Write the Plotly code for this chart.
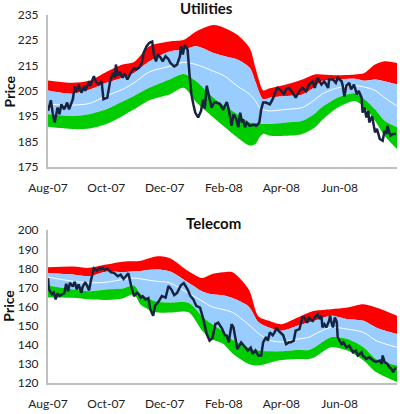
import plotly.graph_objects as go

# ---------------- Utilities ----------------
u_band_dates = ["2007-08-01","2007-08-27","2007-09-13","2007-10-01","2007-10-18","2007-10-30",
                "2007-11-15","2007-12-06","2007-12-21","2008-01-03","2008-01-21","2008-02-02",
                "2008-02-15","2008-02-28","2008-03-05","2008-03-09","2008-03-13","2008-03-20",
                "2008-04-06","2008-04-23","2008-05-06","2008-05-13","2008-05-30","2008-06-17",
                "2008-06-27","2008-07-08","2008-07-18","2008-07-31"]
u_upper2 = [209.1,208.2,209.0,212.5,215.4,216.4,222.6,224.5,225.2,228.5,231.0,229.8,227.2,221.9,
            214.0,208.8,205.2,206.0,207.5,209.5,211.5,211.5,211.2,211.5,212.1,215.4,216.7,216.0]
u_upper1 = [205.2,203.9,205.4,208.2,210.2,212.1,216.7,220.6,221.3,222.6,220.0,218.7,217.4,214.1,
            208.5,204.3,201.7,202.3,203.0,203.6,206.5,208.8,209.5,209.8,209.0,209.5,208.8,207.5]
u_mid    = [199.7,199.4,200.0,203.0,205.6,208.2,212.5,214.7,216.3,215.4,212.8,210.8,206.9,203.6,
            201.0,198.4,197.5,197.1,197.7,198.4,201.5,203.6,206.2,207.0,206.5,205.2,202.3,199.0]
u_lower1 = [195.8,195.1,195.8,197.7,200.8,203.0,206.2,209.5,211.7,208.8,202.3,199.0,195.8,192.5,
            192.3,191.9,191.9,191.9,192.5,193.2,196.0,198.4,202.3,204.0,201.7,197.7,193.2,190.6]
u_lower2 = [190.8,189.9,190.1,191.9,195.1,197.7,201.3,203.6,206.2,200.5,194.5,190.6,186.6,183.4,
            184.0,186.6,188.0,187.3,187.3,188.0,190.5,193.2,198.4,201.0,198.4,193.2,187.3,182.0]

u_dates = [
 "2007-08-01","2007-08-04","2007-08-06","2007-08-08","2007-08-11","2007-08-13","2007-08-15","2007-08-18","2007-08-21","2007-08-23","2007-08-25","2007-08-27","2007-08-29","2007-08-30",
 "2007-09-01","2007-09-02","2007-09-05","2007-09-08","2007-09-09","2007-09-13","2007-09-14","2007-09-18","2007-09-20","2007-09-23","2007-09-26","2007-09-28",
 "2007-10-02","2007-10-05","2007-10-08","2007-10-10","2007-10-11","2007-10-13","2007-10-15","2007-10-18","2007-10-20","2007-10-23","2007-10-26","2007-10-30",
 "2007-11-01","2007-11-04","2007-11-07","2007-11-09","2007-11-12","2007-11-15","2007-11-18","2007-11-20","2007-11-22","2007-11-24","2007-11-27","2007-11-29",
 "2007-12-02","2007-12-05","2007-12-07","2007-12-11","2007-12-14","2007-12-17","2007-12-18","2007-12-20","2007-12-22","2007-12-25","2007-12-27","2007-12-29","2007-12-31",
 "2008-01-02","2008-01-05","2008-01-08","2008-01-10","2008-01-12","2008-01-14","2008-01-17","2008-01-19","2008-01-22","2008-01-24","2008-01-28","2008-01-31",
 "2008-02-04","2008-02-06","2008-02-09","2008-02-11","2008-02-14","2008-02-16","2008-02-18","2008-02-20","2008-02-21","2008-02-23","2008-02-25","2008-02-28",
 "2008-03-03","2008-03-06","2008-03-09","2008-03-11","2008-03-13","2008-03-16","2008-03-20","2008-03-23","2008-03-27","2008-03-28",
 "2008-04-01","2008-04-04","2008-04-06","2008-04-09","2008-04-13","2008-04-16","2008-04-20","2008-04-23","2008-04-27","2008-04-30",
 "2008-05-04","2008-05-06","2008-05-09","2008-05-13","2008-05-16","2008-05-20","2008-05-21","2008-05-25","2008-05-28","2008-05-30",
 "2008-06-03","2008-06-04","2008-06-06","2008-06-08","2008-06-11","2008-06-13","2008-06-16","2008-06-19","2008-06-21","2008-06-24","2008-06-25","2008-06-27","2008-06-29",
 "2008-07-01","2008-07-02","2008-07-05","2008-07-08","2008-07-10","2008-07-13","2008-07-16","2008-07-18","2008-07-20","2008-07-21","2008-07-24","2008-07-27","2008-07-30"]
u_price = [
 197.1,201.3,196.0,192.5,198.4,195.8,199.7,197.7,200.4,197.7,199.7,201.7,206.9,204.5,
 205.6,207.5,204.3,206.9,205.0,208.8,206.9,210.8,208.8,207.5,208.8,201.7,
 202.3,208.8,212.1,210.2,215.4,211.0,212.5,210.2,212.0,209.5,211.7,214.1,
 213.4,214.1,216.0,220.0,222.6,224.0,224.5,218.7,216.7,219.4,218.0,216.7,
 218.7,217.5,216.0,214.7,215.4,218.7,222.6,219.4,223.2,221.3,211.5,203.6,199.7,
 196.4,194.5,197.0,201.5,198.0,207.0,201.7,198.4,200.5,200.4,199.8,197.5,
 200.6,197.7,191.2,195.7,193.8,190.6,196.4,192.5,193.8,190.6,192.5,191.2,
 191.6,191.2,192.5,197.7,200.4,200.4,199.7,201.7,205.6,206.2,
 205.0,203.6,205.8,206.2,204.3,202.3,204.9,206.2,204.9,207.5,
 208.8,206.2,210.2,207.5,208.8,206.2,209.5,209.5,208.2,210.2,
 208.8,207.5,202.8,207.0,208.2,205.6,207.5,203.6,205.0,202.3,196.4,198.5,194.5,
 197.1,192.5,195.0,188.6,190.0,186.0,185.3,189.2,188.0,191.2,187.3,188.0,188.0]

# ---------------- Telecom ----------------
t_band_dates = ["2007-08-01","2007-08-27","2007-09-13","2007-10-01","2007-10-18","2007-10-30",
                "2007-11-06","2007-11-22","2007-12-06","2007-12-26","2008-01-09","2008-01-19",
                "2008-01-31","2008-02-10","2008-02-27","2008-03-08","2008-03-19","2008-04-01",
                "2008-04-18","2008-04-30","2008-05-06","2008-05-23","2008-06-09","2008-06-26",
                "2008-07-09","2008-07-31"]
t_upper2 = [180.6,181.0,180.3,182.0,183.5,183.7,184.0,186.3,185.5,178.5,175.0,177.0,178.0,178.0,
            169.0,155.0,152.6,150.8,154.3,156.9,157.8,158.6,159.5,161.2,159.5,155.2]
t_upper1 = [177.6,176.8,176.0,178.3,178.0,178.5,178.7,179.4,178.5,172.5,168.0,166.5,166.0,164.5,
            160.0,152.0,149.1,147.4,150.0,151.7,152.6,155.2,153.4,152.6,149.1,145.6]
t_mid    = [175.4,173.3,172.5,172.8,174.2,175.0,174.5,173.3,172.5,167.0,163.0,160.0,158.5,157.0,
            150.5,146.0,142.5,141.5,143.0,144.0,145.6,149.1,148.2,146.5,142.2,138.7]
t_lower1 = [171.0,169.0,168.1,169.0,169.5,171.0,166.5,162.7,162.1,162.0,155.0,151.0,147.0,142.5,
            138.5,137.0,136.6,136.6,137.3,137.3,138.7,143.9,143.0,138.7,132.6,129.2]
t_lower2 = [164.8,164.7,163.8,163.5,164.3,166.4,161.0,157.0,156.9,157.0,147.5,143.0,140.5,135.5,
            130.0,129.2,130.5,132.0,132.6,132.6,133.5,138.7,137.0,131.8,125.7,120.5]

t_dates = [
 "2007-08-01","2007-08-02","2007-08-05","2007-08-07","2007-08-09","2007-08-11","2007-08-13","2007-08-16","2007-08-18","2007-08-20","2007-08-22","2007-08-24","2007-08-27","2007-08-29","2007-08-31",
 "2007-09-02","2007-09-05","2007-09-06","2007-09-09","2007-09-11","2007-09-13","2007-09-15","2007-09-17","2007-09-18","2007-09-21","2007-09-24","2007-09-25","2007-09-27","2007-09-29",
 "2007-10-02","2007-10-06","2007-10-09","2007-10-13","2007-10-16","2007-10-19","2007-10-21","2007-10-24","2007-10-27","2007-10-30",
 "2007-11-02","2007-11-04","2007-11-06","2007-11-08","2007-11-11","2007-11-14","2007-11-16","2007-11-19","2007-11-21","2007-11-23","2007-11-25","2007-11-28",
 "2007-12-02","2007-12-05","2007-12-08","2007-12-11","2007-12-14","2007-12-18","2007-12-21","2007-12-25","2007-12-28","2007-12-31",
 "2008-01-03","2008-01-07","2008-01-10","2008-01-14","2008-01-17","2008-01-20","2008-01-23","2008-01-26","2008-01-30",
 "2008-02-02","2008-02-04","2008-02-06","2008-02-09","2008-02-11","2008-02-13","2008-02-15","2008-02-17","2008-02-19","2008-02-22","2008-02-24","2008-02-26","2008-02-29",
 "2008-03-02","2008-03-05","2008-03-08","2008-03-11","2008-03-13","2008-03-16","2008-03-18","2008-03-20","2008-03-23","2008-03-25","2008-03-27","2008-03-29",
 "2008-04-01","2008-04-03","2008-04-06","2008-04-09","2008-04-11","2008-04-14","2008-04-16","2008-04-20","2008-04-23","2008-04-25","2008-04-28","2008-04-30",
 "2008-05-04","2008-05-06","2008-05-09","2008-05-11","2008-05-13","2008-05-14","2008-05-16","2008-05-18","2008-05-21","2008-05-22","2008-05-23","2008-05-25","2008-05-27","2008-05-29","2008-05-30",
 "2008-06-03","2008-06-05","2008-06-08","2008-06-11","2008-06-15","2008-06-18","2008-06-20","2008-06-24","2008-06-25","2008-06-29",
 "2008-07-02","2008-07-06","2008-07-09","2008-07-13","2008-07-15","2008-07-16","2008-07-18","2008-07-21","2008-07-23","2008-07-25","2008-07-27","2008-07-29","2008-07-30"]
t_price = [
 175.0,169.0,166.5,167.5,163.8,167.0,165.6,166.4,167.0,172.0,168.0,172.5,170.5,173.0,169.0,
 171.6,167.2,170.0,172.8,170.8,168.5,174.0,178.5,180.0,178.9,180.3,179.6,180.3,179.4,
 179.8,178.0,177.7,175.9,176.7,174.5,175.9,177.5,170.8,165.5,
 167.3,166.4,164.7,165.5,163.8,164.5,158.6,155.2,160.4,161.5,162.9,165.5,
 164.7,170.8,169.0,166.0,167.2,171.2,172.3,169.0,165.5,163.8,
 160.4,159.5,154.3,145.6,142.2,143.5,150.8,151.6,148.5,
 145.0,144.8,141.3,150.8,149.1,144.0,137.8,139.5,141.3,139.5,138.2,137.0,138.5,
 135.2,137.0,134.4,134.4,141.3,144.0,142.2,146.5,145.0,146.5,149.1,147.4,
 145.8,145.0,140.4,141.3,141.3,142.2,147.4,148.2,154.3,154.3,151.6,154.0,
 152.5,154.3,156.0,153.5,155.2,149.1,150.8,149.1,152.6,155.2,152.6,149.1,154.3,152.0,143.9,
 140.4,141.3,138.7,139.5,136.1,137.0,134.4,136.1,134.4,132.6,
 133.5,131.8,131.0,131.8,130.0,134.4,131.0,130.0,128.3,127.5,125.7,127.5,128.3]

tick_vals = ["2007-08-01","2007-10-01","2007-12-01","2008-02-01","2008-04-01","2008-06-01"]
tick_text = ["Aug-07","Oct-07","Dec-07","Feb-08","Apr-08","Jun-08"]

RED = "#FF0000"
BLUE = "#99CCFF"
GREEN = "#00CC00"
NAVY = "#17243F"

fig = go.Figure()

def add_panel(xa, ya, bd, up2, up1, mid, lo1, lo2, pd_, pr):
    common = dict(xaxis=xa, yaxis=ya, mode="lines", showlegend=False, hoverinfo="skip")
    sm = 0.8
    fig.add_trace(go.Scatter(x=bd, y=up2, line=dict(width=0, shape="spline", smoothing=sm), **common))
    fig.add_trace(go.Scatter(x=bd, y=up1, fill="tonexty", fillcolor=RED,
                             line=dict(width=0, shape="spline", smoothing=sm), **common))
    fig.add_trace(go.Scatter(x=bd, y=lo1, fill="tonexty", fillcolor=BLUE,
                             line=dict(width=0, shape="spline", smoothing=sm), **common))
    fig.add_trace(go.Scatter(x=bd, y=lo2, fill="tonexty", fillcolor=GREEN,
                             line=dict(width=0, shape="spline", smoothing=sm), **common))
    fig.add_trace(go.Scatter(x=bd, y=mid, line=dict(width=1, color="white", shape="spline", smoothing=sm), **common))
    fig.add_trace(go.Scatter(x=pd_, y=pr, line=dict(width=2.5, color=NAVY), **common))

add_panel("x", "y", u_band_dates, u_upper2, u_upper1, u_mid, u_lower1, u_lower2, u_dates, u_price)
add_panel("x2", "y2", t_band_dates, t_upper2, t_upper1, t_mid, t_lower1, t_lower2, t_dates, t_price)

FONT = "Lato"
xcommon = dict(type="date", range=["2007-08-01", "2008-07-31"], tickmode="array",
               tickvals=tick_vals, ticktext=tick_text, showgrid=False, zeroline=False,
               showline=True, linecolor="#BFBFBF", linewidth=2, ticks="outside", ticklen=9,
               tickcolor="rgba(0,0,0,0)", tickfont=dict(family=FONT, size=12, color="#222"))
ycommon = dict(showgrid=False, zeroline=False, showline=True, linecolor="#BFBFBF", linewidth=2,
               ticks="outside", ticklen=5, tickcolor="rgba(0,0,0,0)", dtick=10,
               tickfont=dict(family=FONT, size=12, color="#222"))

L, R, T, B = 48, 3, 15, 28
H = 414
ph = H - T - B

def ydom(top_px, bot_px):
    return [(H - B - bot_px) / ph, (H - B - top_px) / ph]

fig.update_layout(
    width=400, height=414, margin=dict(l=L, r=R, t=T, b=B),
    paper_bgcolor="white", plot_bgcolor="white",
    xaxis=dict(domain=[0, 1], anchor="y", **xcommon),
    yaxis=dict(domain=ydom(15, 168), anchor="x", range=[175, 235], tick0=175, **ycommon),
    xaxis2=dict(domain=[0, 1], anchor="y2", **xcommon),
    yaxis2=dict(domain=ydom(232, 386), anchor="x2", range=[120, 200], tick0=120, **ycommon),
)

pw = 400 - L - R

def px_x(px):
    return (px - L) / pw

def px_y(py):
    return (H - B - py) / ph

ann = []
ann.append(dict(text="<b>Utilities</b>", x=px_x(206), y=px_y(8), xref="paper", yref="paper",
                showarrow=False, font=dict(family=FONT, size=15, color="#111"), xanchor="center", yanchor="middle"))
ann.append(dict(text="<b>Telecom</b>", x=px_x(213), y=px_y(225), xref="paper", yref="paper",
                showarrow=False, font=dict(family=FONT, size=15, color="#111"), xanchor="center", yanchor="middle"))
ann.append(dict(text="<b>Price</b>", x=px_x(9), y=px_y(92), xref="paper", yref="paper", textangle=-90,
                showarrow=False, font=dict(family=FONT, size=14, color="#111"), xanchor="center", yanchor="middle"))
ann.append(dict(text="<b>Price</b>", x=px_x(9), y=px_y(308), xref="paper", yref="paper", textangle=-90,
                showarrow=False, font=dict(family=FONT, size=14, color="#111"), xanchor="center", yanchor="middle"))
fig.update_layout(annotations=ann)

fig.write_html("out.html")
